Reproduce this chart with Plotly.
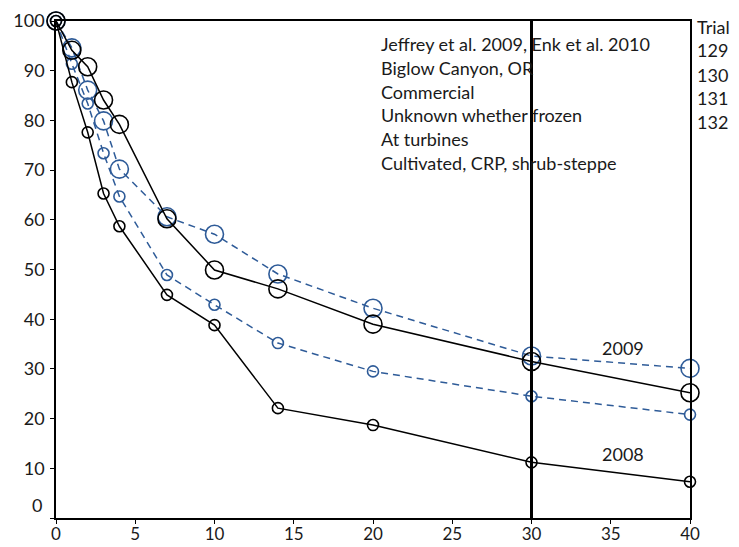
import plotly.graph_objects as go

days = [0, 1, 2, 3, 4, 7, 10, 14, 20, 30, 40]

black_2008 = [100, 87.7, 77.6, 65.3, 58.7, 44.9, 38.8, 22.1, 18.7, 11.2, 7.3]
black_2009 = [100, 94.1, 90.8, 84.1, 79.2, 60.2, 49.9, 46.1, 39.0, 31.5, 25.2]
blue_2009 = [100, 94.6, 86.1, 79.9, 70.2, 60.6, 57.1, 49.1, 42.2, 32.6, 30.1]
blue_2008 = [100, 91.4, 83.4, 73.4, 64.7, 48.9, 42.9, 35.2, 29.5, 24.5, 20.8]

info_lines = [
    "Jeffrey et al. 2009, Enk et al. 2010",
    "Biglow Canyon, OR",
    "Commercial",
    "Unknown whether frozen",
    "At turbines",
    "Cultivated, CRP, shrub-steppe",
]
trial_labels = ["Trial", "129", "130", "131", "132"]
year_labels = ["2009", "2008"]
year_pos = [(35.8, 34.3), (35.8, 12.8)]

x_ticks = [0, 5, 10, 15, 20, 25, 30, 35, 40]
y_ticks = [0, 10, 20, 30, 40, 50, 60, 70, 80, 90, 100]

BLUE = "#2E5B98"
FONT = "Lato"
TXT = "#1a1a1a"

fig = go.Figure()


def add(y, color, size, dash):
    fig.add_trace(go.Scatter(
        x=days, y=y, mode="lines+markers", cliponaxis=False,
        line=dict(color=color, width=1.5, dash=dash),
        marker=dict(symbol="circle-open", size=size, color=color,
                    line=dict(width=1.6, color=color)),
        showlegend=False,
    ))


add(blue_2008, BLUE, 11, "7px,5px")
add(blue_2009, BLUE, 18, "7px,5px")
add(black_2008, "black", 11, "solid")
add(black_2009, "black", 18, "solid")

# thick vertical line at day 30
fig.add_shape(type="line", xref="x", yref="y", x0=30, x1=30, y0=0, y1=100,
              line=dict(color="black", width=3))

line_y = [95.4, 90.5, 85.7, 81.0, 76.2, 71.4]
for txt, yy in zip(info_lines, line_y):
    fig.add_annotation(x=20.4, y=yy, xref="x", yref="y", text=txt,
                       showarrow=False, xanchor="left", yanchor="middle",
                       font=dict(family=FONT, size=18, color=TXT))

trial_y = [27, 50, 75, 98, 122]
for txt, py in zip(trial_labels, trial_y):
    fig.add_annotation(x=(695 - 56) / 634, y=(518 - py) / 497,
                       xref="paper", yref="paper", text=txt,
                       showarrow=False, xanchor="left", yanchor="middle",
                       font=dict(family=FONT, size=18, color=TXT))

for txt, (xx, yy) in zip(year_labels, year_pos):
    fig.add_annotation(x=xx, y=yy, xref="x", yref="y", text=txt,
                       showarrow=False, xanchor="center", yanchor="middle",
                       font=dict(family=FONT, size=18, color=TXT))

# the raised "0" label on the value axis
fig.add_annotation(x=0, y=2.6, xref="paper", yref="y", text="0",
                   showarrow=False, xanchor="right", yanchor="middle",
                   xshift=-12,
                   font=dict(family=FONT, size=18, color=TXT))

fig.update_layout(
    width=739, height=547, autosize=False,
    margin=dict(l=56, r=49, t=21, b=29),
    paper_bgcolor="white", plot_bgcolor="white",
    font=dict(family=FONT, size=18, color=TXT),
    showlegend=False,
)
fig.update_xaxes(
    range=[0, 40], tickvals=x_ticks, ticktext=[str(v) for v in x_ticks],
    showgrid=False, zeroline=False, automargin=False,
    showline=True, linecolor="black", linewidth=1.5, mirror=True,
    ticks="outside", ticklen=4, tickwidth=1.2, tickcolor="black",
    ticklabelstandoff=-4,
    tickfont=dict(family=FONT, size=17, color=TXT),
)
fig.update_yaxes(
    range=[0, 100], tickvals=y_ticks,
    ticktext=[""] + [str(v) for v in y_ticks[1:]],
    showgrid=False, zeroline=False, automargin=False,
    showline=True, linecolor="black", linewidth=1.5, mirror=True,
    ticks="outside", ticklen=4, tickwidth=1.2, tickcolor="black",
    ticklabelstandoff=2,
    tickfont=dict(family=FONT, size=18, color=TXT),
)

fig.write_html(
    "out.html",
    config={"responsive": False, "displayModeBar": False},
    post_script="document.body.style.margin='0';"
                "document.body.style.overflow='hidden';",
)
